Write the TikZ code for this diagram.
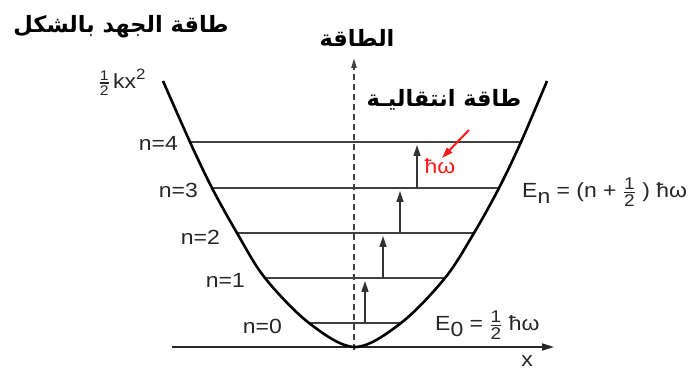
\documentclass[tikz,border=0pt]{standalone}
\usepackage{fontspec}
\setmainfont[FakeStretch=1.12]{Liberation Sans}
\newfontfamily\arabicfont[Script=Arabic]{DejaVu Sans}
\usetikzlibrary{arrows.meta}
\TeXXeTstate=1
\newcommand\myfrac[3][17]{\ensuremath{\vcenter{\hbox{$\hbox{\fontsize{#1}{#1}\selectfont #2}\above 1.1pt\hbox{\fontsize{#1}{#1}\selectfont #3}$}}}}
\newcommand\hw{ħω}
\begin{document}
\begin{tikzpicture}[x=1pt,y=-1pt,
 lbl/.style={font=\fontsize{20.5}{24}\selectfont, inner sep=0pt, text=black!85},
 artext/.style={font=\fontsize{22.5}{27}\selectfont\arabicfont\bfseries, inner sep=0pt},
 level/.style={draw=black!75, line width=1.6pt},
 jump/.style={draw=black!80, line width=1.6pt, -{Triangle[length=11pt,width=7pt]}},
 well/.style={draw=black, line width=2.6pt},
]
\useasboundingbox (0,0) rectangle (699,371);
% coordinates
\coordinate (axL) at (172,347);
\coordinate (axR) at (554,347);
\coordinate (dB) at (354,350);
\coordinate (dT) at (354,58);
\coordinate (L0) at (309,323); \coordinate (R0) at (401,323);
\coordinate (L1) at (265,278); \coordinate (R1) at (445,278);
\coordinate (L2) at (237,233); \coordinate (R2) at (474,233);
\coordinate (L3) at (212,188); \coordinate (R3) at (499,188);
\coordinate (L4) at (190,142); \coordinate (R4) at (521,142);
\coordinate (TL) at (163,81); \coordinate (TR) at (547,81);
\coordinate (V) at (355,347);
% axis
\draw[draw=black!85, line width=1.6pt, -{Triangle[length=12pt,width=7pt]}] (axL) -- (axR);
% levels
\foreach \i in {0,...,4} { \draw[level] (L\i) -- (R\i); }
% dashed vertical energy axis
\draw[draw=black!75, line width=2pt, dash pattern=on 6pt off 4pt, -{Triangle[length=10pt,width=5pt]}] (dB) -- (dT);
% potential well
\draw[well] plot[smooth, tension=0.55] coordinates {(TL) (L4) (L3) (L2) (L1) (L0) (V) (R0) (R1) (R2) (R3) (R4) (TR)};
% jumps
\coordinate (a0) at (365,323); \coordinate (b0) at (365,281);
\coordinate (a1) at (383,278); \coordinate (b1) at (383,236);
\coordinate (a2) at (400,233); \coordinate (b2) at (400,191);
\coordinate (a3) at (417,188); \coordinate (b3) at (417,145);
\foreach \i in {0,...,3} { \draw[jump] (a\i) -- (b\i); }
% red arrow
\coordinate (rS) at (469,130); \coordinate (rE) at (442,158);
\draw[draw=red!90!white, line width=2pt, -{Triangle[length=11pt,width=7pt]}] (rS) -- (rE);
\node[lbl, text=red!90!white] (hwl) at (440,166) {\hw};
% level labels
\node[lbl, anchor=east] (n4) at (178,143) {n=4};
\node[lbl, anchor=east] (n3) at (198,190) {n=3};
\node[lbl, anchor=east] (n2) at (220,237) {n=2};
\node[lbl, anchor=east] (n1) at (245,280) {n=1};
\node[lbl, anchor=east] (n0) at (282,326) {n=0};
% formulas
\node[lbl, anchor=west] (En) at (522,192) {E\raisebox{-6pt}{n} = (n + \myfrac{1}{2} ) \hw};
\node[lbl, anchor=west] (E0) at (435,325) {E\raisebox{-6pt}{0} = \myfrac{1}{2} \hw};
\node[lbl] (xl) at (527,361) {x};
\node[lbl] (kx) at (122,82) {\myfrac[14]{1}{2}\,kx\raisebox{9pt}{\fontsize{15}{15}\selectfont 2}};
% arabic
\node[artext] (t1) at (121,27) {\beginR طاقة الجهد بالشكل\endR};
\node[artext] (t2) at (357,38) {\beginR الطاقة\endR};
\node[artext] (t3) at (444,100) {\beginR طاقة انتقاليـة\endR};
\end{tikzpicture}
\end{document}
